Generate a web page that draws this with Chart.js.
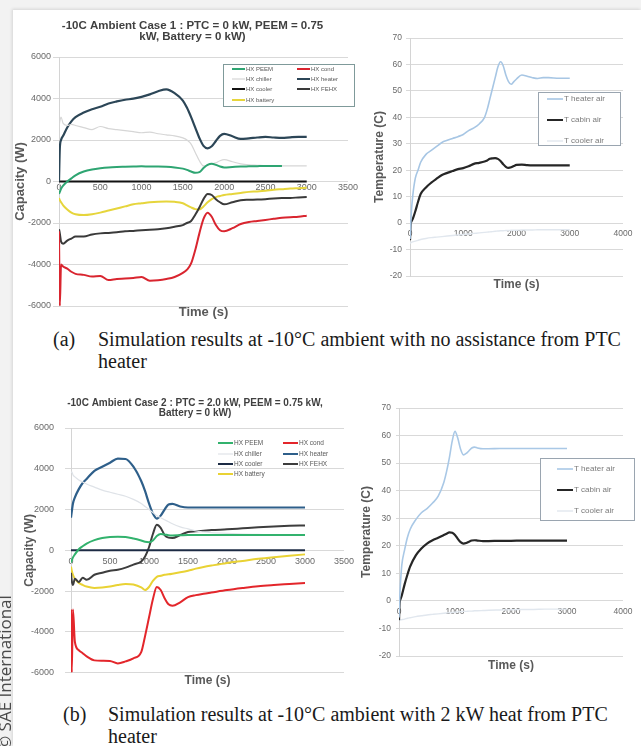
<!DOCTYPE html>
<html>
<head>
<meta charset="utf-8">
<title>-10C ambient simulation results</title>
<script src="https://cdn.jsdelivr.net/npm/chart.js@4.4.1/dist/chart.umd.min.js"></script>
<style>
  html, body { margin: 0; padding: 0; }
  body { width: 641px; height: 746px; position: relative; overflow: hidden; background: #f2f2f2; }
  #sheet { position: absolute; left: 13px; top: 10px; width: 628px; height: 736px; background: #fff; box-shadow: -1px -1px 3px rgba(0,0,0,0.12); }
  canvas { position: absolute; }
  .cap { position: absolute; font-family: "Liberation Serif", "Times New Roman", serif; font-size: 20px; line-height: 22px; color: #1a1a1a; white-space: nowrap; }
  .cap .lab { position: absolute; left: 0; top: 0; }
  #wm { position: absolute; left: -4px; top: 750px; transform-origin: 0 0; transform: rotate(-90deg); font-family: "Open Sans", "Liberation Sans", sans-serif; font-size: 17px; line-height: 18px; color: #4a4a4a; white-space: nowrap; }
</style>
</head>
<body>
<div id="sheet"></div>
<canvas id="capA" width="346" height="307" style="left:14px;top:12px;"></canvas>
<canvas id="tempA" width="275" height="266" style="left:366px;top:25px;"></canvas>
<canvas id="capB" width="346" height="297" style="left:14px;top:392px;"></canvas>
<canvas id="tempB" width="286" height="277" style="left:355px;top:395px;"></canvas>
<div class="cap" style="left:53px;top:328px;"><span class="lab">(a)</span><div style="margin-left:45px;">Simulation results at -10°C ambient with no assistance from PTC<br>heater</div></div>
<div class="cap" style="left:63px;top:703px;"><span class="lab">(b)</span><div style="margin-left:45px;">Simulation results at -10°C ambient with 2 kW heat from PTC<br>heater</div></div>
<div id="wm">© SAE International</div>

<script>
// ---- case 1 (no PTC): heat exchanger capacity, W ----
var tA = [0, 10, 25, 50, 100, 150, 200, 300, 400, 500, 600, 700, 800, 900, 1000, 1100, 1200, 1300, 1400, 1500,
          1550, 1600, 1650, 1700, 1750, 1800, 1850, 1900, 1950, 2000, 2100, 2200, 2300, 2400, 2500, 2600, 2700, 2800, 2900, 3000];
var peemA = [-600, -500, -350, -200, 0, 150, 300, 480, 580, 640, 680, 700, 710, 720, 730, 720, 720, 710, 680, 620,
             560, 480, 420, 450, 650, 800, 850, 800, 720, 680, 700, 720, 730, 740, 750, 750, 750, null, null, null];
var condA = [-2400, -6000, -4000, -4100, -4200, -4350, -4450, -4500, -4580, -4550, -4750, -4700, -4680, -4650, -4600, -4780, -4760, -4700, -4600, -4400,
             -4250, -3950, -3300, -2500, -1800, -1500, -1700, -2100, -2350, -2400, -2250, -2050, -1950, -1900, -1850, -1800, -1750, -1720, -1700, -1650];
var chillerA = [2600, 2900, 3100, 2800, 2700, 2750, 2700, 2600, 2500, 2650, 2550, 2500, 2450, 2400, 2350, 2380, 2300, 2250, 2200, 2100,
                2000, 1800, 1400, 1000, 750, 800, 850, 900, 1000, 1050, 950, 850, 800, 780, 760, 750, 750, 750, 750, 750];
var heaterA = [0, 1600, 2000, 2200, 2600, 2900, 3100, 3320, 3480, 3600, 3760, 3860, 3940, 3990, 4080, 4200, 4350, 4440, 4260, 3900,
               3550, 3100, 2600, 2100, 1720, 1600, 1700, 1950, 2200, 2300, 2180, 2050, 2080, 2120, 2150, 2120, 2100, 2130, 2150, 2150];
var coolerA = [0, 0, 0, 0, 0, 0, 0, 0, 0, 0, 0, 0, 0, 0, 0, 0, 0, 0, 0, 0,
               0, 0, 0, 0, 0, 0, 0, 0, 0, 0, 0, 0, 0, 0, 0, 0, 0, 0, 0, 0];
var fehxA = [-2300, -2500, -2900, -3000, -2850, -2750, -2650, -2650, -2550, -2500, -2480, -2450, -2400, -2380, -2350, -2330, -2300, -2250, -2180, -2100,
             -2000, -1900, -1600, -1250, -850, -600, -650, -850, -1000, -1100, -1000, -900, -880, -870, -850, -820, -800, -790, -770, -750];
var batteryA = [-800, -900, -1000, -1150, -1350, -1500, -1580, -1620, -1580, -1500, -1400, -1300, -1200, -1100, -1050, -1000, -970, -960, -980, -1050,
                -1150, -1250, -1330, -1350, -1200, -1000, -850, -750, -700, -650, -600, -550, -500, -480, -450, -400, -370, -340, -320, -300];

// ---- case 1: air temperatures, C ----
var tTA = [0, 10, 25, 50, 100, 150, 200, 300, 400, 500, 600, 700, 800, 900, 1000, 1100, 1200, 1300, 1400,
           1450, 1500, 1550, 1600, 1650, 1700, 1750, 1800, 1850, 1900, 1950, 2000, 2100, 2200, 2300, 2400, 2500, 2600, 2800, 3000];
var heaterAirA = [-6, -2, 4, 10, 17, 20, 23, 26, 27.5, 29, 30.5, 31.3, 32, 32.7, 33.5, 35, 36, 37.5, 40,
                  43, 47, 51, 55, 59, 61, 59.5, 56, 53.5, 52.5, 53.5, 54.5, 56, 55.5, 55, 54.7, 55, 55, 54.8, 54.8];
var cabinAirA = [-6.5, -1, 0.5, 1.5, 4.5, 8, 11, 13.5, 15.3, 16.8, 18.2, 19, 19.7, 20.4, 20.8, 21.5, 22.4, 22.8, 23.3,
                 23.7, 24.3, 24.5, 24.6, 24.3, 23.5, 22.3, 21.3, 20.9, 21.1, 21.6, 22, 22.1, 21.9, 21.8, 21.8, 21.8, 21.8, 21.8, 21.8];
var coolerAirA = [-7.5, -7.5, -7.3, -7.1, -6.8, -6.5, -6.2, -5.8, -5.5, -5.3, -5.1, -4.9, -4.7, -4.5, -4.3, -4.1, -3.9, -3.7, -3.5,
                  -3.4, -3.3, -3.2, -3.1, -3, -2.9, -2.9, -2.8, -2.8, -2.7, -2.7, -2.7, -2.6, -2.6, -2.6, -2.5, -2.5, -2.5, -2.5, -2.5];

// ---- case 2 (2 kW PTC): heat exchanger capacity, W ----
var tB = [0, 10, 25, 50, 100, 150, 200, 300, 400, 500, 600, 700, 800, 900, 950, 1000, 1050, 1100, 1150, 1200, 1250, 1300,
          1400, 1500, 1600, 1700, 1800, 2000, 2200, 2400, 2600, 2800, 3000];
var peemB = [-600, -500, -350, -200, 50, 200, 330, 500, 600, 650, 660, 650, 580, 480, 420, 400, 480, 700, 800, 780, 740, 730,
             740, 750, 750, 750, 750, 750, 750, 750, 750, 750, 750];
var condB = [-2900, -6000, -2900, -4500, -4900, -5050, -5200, -5400, -5420, -5430, -5550, -5450, -5300, -5000, -4200, -3300, -2400, -1800, -1950, -2350, -2650, -2720,
             -2550, -2300, -2200, -2130, -2070, -1950, -1850, -1760, -1700, -1650, -1600];
var chillerB = [3800, 3850, 3700, 3600, 3450, 3350, 3250, 3100, 2950, 2850, 2750, 2650, 2500, 2300, 2150, 2000, 1850, 1700, 1600, 1500, 1400, 1300,
                1150, 1050, 950, 900, 870, 830, 800, 780, 760, 750, 750];
var heaterB = [1600, 1900, 2300, 2600, 3000, 3300, 3500, 3900, 4100, 4300, 4500, 4480, 4100, 3400, 2900, 2300, 1800, 1550, 1700, 2000, 2250, 2280,
               2150, 2100, 2100, 2100, 2100, 2100, 2100, 2100, 2100, 2100, 2100];
var coolerB = [0, 0, 0, 0, 0, 0, 0, 0, 0, 0, 0, 0, 0, 0, 0, 0, 0, 0, 0, 0, 0, 0,
               0, 0, 0, 0, 0, 0, 0, 0, 0, 0, 0];
var fehxB = [-1100, -1500, -1700, -1400, -1550, -1350, -1450, -1200, -1100, -1000, -950, -850, -700, -550, -300, 150, 800, 1250, 1100, 750, 620, 600,
             750, 900, 930, 960, 990, 1030, 1080, 1130, 1170, 1200, 1220];
var batteryB = [-800, -1000, -1200, -1400, -1600, -1700, -1780, -1850, -1830, -1780, -1700, -1650, -1680, -1820, -1950, -1800, -1500, -1300, -1250, -1200, -1180, -1150,
                -1080, -1000, -900, -820, -750, -620, -520, -420, -340, -270, -200];

// ---- case 2: air temperatures, C ----
var tTB = [0, 10, 25, 50, 100, 150, 200, 300, 400, 500, 600, 700, 800, 850, 900, 950, 1000, 1050, 1100, 1150, 1200, 1250, 1300, 1350, 1400,
           1500, 1600, 1800, 2000, 2200, 2400, 2600, 2800, 3000];
var heaterAirB = [-6, 0, 6, 13, 18.5, 23, 26, 29.5, 32, 33.5, 35.5, 38, 43, 47, 52, 58, 61.5, 59, 55, 53, 53.5, 54.5, 55.5, 55.8, 55.5,
                  55.2, 55.2, 55.3, 55.3, 55.3, 55.3, 55.3, 55.3, 55.3];
var cabinAirB = [-7, -1, 0.5, 2, 6, 9.5, 12.5, 16.5, 19, 20.8, 22, 22.9, 23.9, 24.4, 24.9, 24.7, 23.9, 22.5, 21.3, 20.8, 21, 21.5, 21.9, 22, 21.9,
                 21.7, 21.7, 21.8, 21.8, 21.9, 21.9, 21.9, 21.9, 21.9];
var coolerAirB = [-7, -7, -6.9, -6.8, -6.6, -6.3, -6.1, -5.7, -5.4, -5.1, -4.9, -4.7, -4.5, -4.4, -4.3, -4.2, -4.1, -4, -3.9, -3.8, -3.8, -3.7, -3.7, -3.6, -3.6,
                  -3.5, -3.4, -3.3, -3.2, -3.1, -3.1, -3, -3, -3];

var capTicks = { min: -6000, max: 6000, step: 2000 };
var capTime = { min: 0, max: 3500, step: 500 };
var tempTicks = { min: -20, max: 70, step: 10 };
var tempTime = { min: 0, max: 4000, step: 1000 };

var FONT = "'Liberation Sans', Arial, sans-serif";
var GREY_TEXT = '#6a6a6a';
var TITLE_TEXT = '#595959';

function plainNumber(v) { return String(v); }

function lineSet(label, color, width, times, values) {
    return {
        label: label,
        data: times.map(function (t, i) { return { x: t, y: values[i] }; }),
        borderColor: color,
        borderWidth: width,
        pointRadius: 0,
        fill: false,
        spanGaps: false,
        cubicInterpolationMode: 'monotone'
    };
}

// chart heading, two centred lines
function titleLines(t) {
    return {
        id: 'titleLines',
        afterDraw: function (chart) {
            var ctx = chart.ctx;
            ctx.save();
            ctx.fillStyle = '#404040';
            ctx.font = 'bold ' + t.size + 'px ' + FONT;
            ctx.textAlign = 'center';
            ctx.textBaseline = 'middle';
            t.text.forEach(function (line, i) { ctx.fillText(line, t.x, t.y + i * t.gap); });
            ctx.restore();
        }
    };
}

// legend laid out like the spreadsheet one
function boxLegend(l) {
    return {
        id: 'boxLegend',
        afterDatasetsDraw: function (chart) {
            var ctx = chart.ctx;
            ctx.save();
            if (l.box) {
                ctx.fillStyle = '#fff';
                ctx.fillRect(l.box[0], l.box[1], l.box[2], l.box[3]);
                ctx.strokeStyle = l.border;
                ctx.lineWidth = 1;
                ctx.strokeRect(l.box[0] + 0.5, l.box[1] + 0.5, l.box[2], l.box[3]);
            }
            ctx.font = l.size + 'px ' + FONT;
            ctx.textAlign = 'left';
            ctx.textBaseline = 'middle';
            chart.data.datasets.forEach(function (ds, i) {
                var p = l.items[i];
                ctx.strokeStyle = ds.borderColor;
                ctx.lineWidth = Math.min(ds.borderWidth, 2);
                ctx.beginPath();
                ctx.moveTo(p[0], p[1]);
                ctx.lineTo(p[0] + l.len, p[1]);
                ctx.stroke();
                ctx.fillStyle = l.color;
                ctx.fillText(ds.label, p[0] + l.len + 1, p[1]);
            });
            ctx.restore();
        }
    };
}

function buildChart(id, s) {
    return new Chart(document.getElementById(id), {
        type: 'line',
        data: { datasets: s.datasets },
        plugins: [titleLines(s.title), boxLegend(s.legend)],
        options: {
            responsive: false,
            animation: false,
            events: [],
            layout: { padding: s.padding },
            plugins: {
                legend: { display: false },
                title: { display: false },
                tooltip: { enabled: false }
            },
            scales: {
                x: {
                    type: 'linear', position: 'bottom',
                    min: s.time.min, max: s.time.max,
                    afterFit: function (sc) { sc.height = s.xHeight; },
                    ticks: { display: false },
                    grid: { display: false },
                    border: { display: false },
                    title: { display: true, text: 'Time (s)', color: TITLE_TEXT, padding: 0,
                             font: { family: FONT, size: s.axisTitle, weight: 'bold', lineHeight: 1 } }
                },
                x2: {
                    type: 'linear', position: { y: 0 },
                    min: s.time.min, max: s.time.max,
                    ticks: { stepSize: s.time.step, color: GREY_TEXT, padding: s.xTickPad, maxRotation: 0, autoSkip: false,
                             callback: plainNumber, font: { family: FONT, size: s.tick } },
                    grid: { display: false, drawTicks: false },
                    border: { display: false }
                },
                y: {
                    type: 'linear',
                    min: s.vals.min, max: s.vals.max,
                    afterFit: function (sc) { sc.width = s.yWidth; },
                    ticks: { stepSize: s.vals.step, color: GREY_TEXT, padding: s.yTickPad,
                             callback: plainNumber, font: { family: FONT, size: s.tick } },
                    grid: { color: '#d9d9d9', tickLength: s.tickLen, drawTicks: true },
                    border: { display: true, color: '#d4d4d4' },
                    title: { display: true, text: s.yTitle, color: TITLE_TEXT, padding: { top: s.yTitlePad, bottom: 0 },
                             font: { family: FONT, size: s.axisTitle, weight: 'bold', lineHeight: 1 } }
                }
            }
        }
    });
}

buildChart('capA', {
    datasets: [
        lineSet('HX PEEM', '#2ea572', 2, tA, peemA),
        lineSet('HX cond', '#d9252f', 2, tA, condA),
        lineSet('HX chiller', '#d6d6d6', 1.2, tA, chillerA),
        lineSet('HX heater', '#2c4657', 2.2, tA, heaterA),
        lineSet('HX cooler', '#121212', 2, tA, coolerA),
        lineSet('HX FEHX', '#3a3a3a', 2, tA, fehxA),
        lineSet('HX battery', '#e6d53c', 2, tA, batteryA)
    ],
    title: { text: ['-10C Ambient Case 1 : PTC = 0 kW, PEEM = 0.75', 'kW, Battery = 0 kW)'], x: 178.5, y: 13.7, gap: 10.8, size: 11.5 },
    legend: { box: [209, 52, 131, 42], border: '#7f9a9a', size: 6, len: 13, color: '#595959',
              items: [[218, 57], [283, 57], [218, 67], [283, 67], [218, 77], [283, 77], [218, 88]] },
    padding: { top: 45, right: 12, left: 0, bottom: 0 },
    time: capTime, vals: capTicks,
    xHeight: 13, yWidth: 45, yTitle: 'Capacity (W)', yTitlePad: 0,
    axisTitle: 13, tick: 9, xTickPad: 1, yTickPad: 2, tickLen: 6
});

buildChart('tempA', {
    datasets: [
        lineSet('T heater air', '#a7c6e4', 1.6, tTA, heaterAirA),
        lineSet('T cabin air', '#262626', 2.2, tTA, cabinAirA),
        lineSet('T cooler air', '#e1e7ee', 1.4, tTA, coolerAirA)
    ],
    title: { text: [], x: 0, y: 0, gap: 0, size: 10 },
    legend: { box: [172, 67, 82, 53], border: '#9aa5b0', size: 8, len: 16, color: '#7a7a7a',
              items: [[181, 74], [181, 95], [181, 116]] },
    padding: { top: 13, right: 18, left: 0, bottom: 0 },
    time: tempTime, vals: tempTicks,
    xHeight: 15, yWidth: 44, yTitle: 'Temperature (C)', yTitlePad: 8,
    axisTitle: 12, tick: 8.5, xTickPad: 5, yTickPad: 4, tickLen: 4
});

buildChart('capB', {
    datasets: [
        lineSet('HX PEEM', '#32b26d', 2, tB, peemB),
        lineSet('HX cond', '#e3262b', 2, tB, condB),
        lineSet('HX chiller', '#dfe3e8', 1.2, tB, chillerB),
        lineSet('HX heater', '#2e5f8a', 2.2, tB, heaterB),
        lineSet('HX cooler', '#1c2b44', 2, tB, coolerB),
        lineSet('HX FEHX', '#3d3d3d', 2, tB, fehxB),
        lineSet('HX battery', '#e9d234', 2, tB, batteryB)
    ],
    title: { text: ['-10C Ambient Case 2 : PTC = 2.0 kW, PEEM = 0.75 kW,', 'Battery = 0 kW)'], x: 181, y: 11.3, gap: 10, size: 10 },
    legend: { box: null, size: 6.5, len: 15, color: '#595959',
              items: [[204, 51], [269, 51], [204, 62], [269, 62], [204, 72], [269, 72], [204, 82]] },
    padding: { top: 36, right: 16, left: 0, bottom: 0 },
    time: capTime, vals: capTicks,
    xHeight: 14, yWidth: 57, yTitle: 'Capacity (W)', yTitlePad: 10,
    axisTitle: 12, tick: 9, xTickPad: 6, yTickPad: 11, tickLen: 6
});

buildChart('tempB', {
    datasets: [
        lineSet('T heater air', '#a9c8e6', 1.6, tTB, heaterAirB),
        lineSet('T cabin air', '#262626', 2.2, tTB, cabinAirB),
        lineSet('T cooler air', '#e1e7ee', 1.4, tTB, coolerAirB)
    ],
    title: { text: [], x: 0, y: 0, gap: 0, size: 10 },
    legend: { box: [185, 63, 94, 62], border: '#9aa5b0', size: 8, len: 16, color: '#7a7a7a',
              items: [[202, 74], [202, 95], [202, 116]] },
    padding: { top: 13, right: 18, left: 0, bottom: 0 },
    time: tempTime, vals: tempTicks,
    xHeight: 16, yWidth: 44, yTitle: 'Temperature (C)', yTitlePad: 6,
    axisTitle: 12, tick: 8.5, xTickPad: 6, yTickPad: 5, tickLen: 3
});
</script>
</body>
</html>
